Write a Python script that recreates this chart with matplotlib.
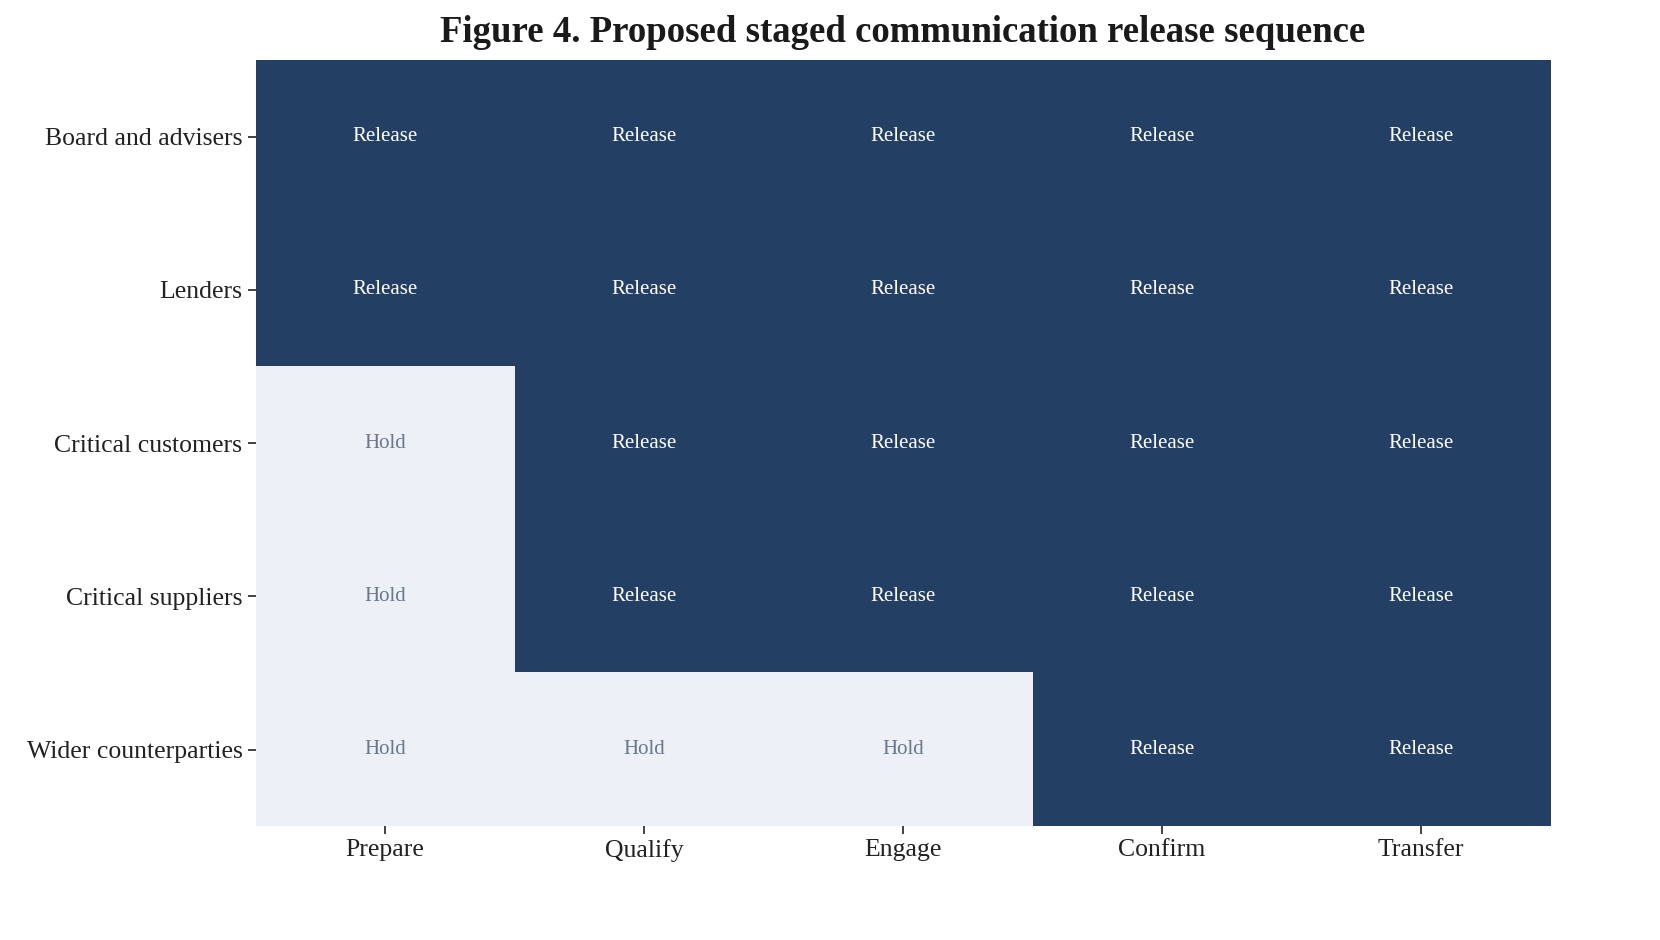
import matplotlib
matplotlib.use("Agg")
import matplotlib.pyplot as plt
from matplotlib.colors import ListedColormap
import numpy as np

plt.rcParams["font.family"] = ["Liberation Serif", "DejaVu Serif"]

stakeholders = ["Board and advisers", "Lenders", "Critical customers",
                "Critical suppliers", "Wider counterparties"]
stages = ["Prepare", "Qualify", "Engage", "Confirm", "Transfer"]
# 1 = Release, 0 = Hold
release = [
    [1, 1, 1, 1, 1],
    [1, 1, 1, 1, 1],
    [0, 1, 1, 1, 1],
    [0, 1, 1, 1, 1],
    [0, 0, 0, 1, 1],
]

grid = np.array(release)
fig = plt.figure(figsize=(16.6, 9.4), dpi=100)
ax = fig.add_axes([0.154, 0.121, 0.780, 0.815])
ax.imshow(grid, cmap=ListedColormap(["#edf0f6", "#233f63"]), vmin=0, vmax=1,
          aspect="auto", interpolation="nearest")
for i in range(grid.shape[0]):
    for j in range(grid.shape[1]):
        if grid[i, j]:
            ax.text(j, i, "Release", ha="center", va="center", fontsize=15, color="white")
        else:
            ax.text(j, i, "Hold", ha="center", va="center", fontsize=15, color="#6b778a")
ax.set_xticks(range(len(stages)))
ax.set_xticklabels(stages, fontsize=18.5)
ax.set_yticks(range(len(stakeholders)))
ax.set_yticklabels(stakeholders, fontsize=18.5)
ax.tick_params(length=6, width=1.2, colors="#222222")
for s in ax.spines.values():
    s.set_visible(False)
fig.text(0.544, 0.965, "Figure 4. Proposed staged communication release sequence",
         ha="center", va="center", fontsize=26.5, fontweight="bold", color="#1a1a1a")
fig.savefig("out.png", dpi=100)
